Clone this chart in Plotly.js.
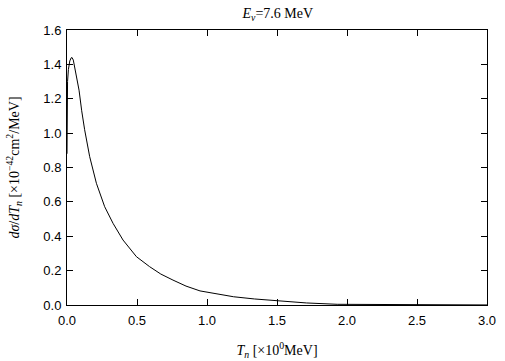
<!DOCTYPE html>
<html>
<head>
<meta charset="utf-8">
<script src="https://cdn.plot.ly/plotly-3.0.1.min.js"></script>
<style>html,body{margin:0;padding:0;background:#fff;}#plot{width:505px;height:361px;}</style>
</head>
<body>
<div id="plot"></div>
<script>
// Neutron kinetic energy T_n [MeV]
var tn = [0, 0.001, 0.004, 0.01, 0.02, 0.03, 0.036, 0.045, 0.06, 0.086, 0.105, 0.126, 0.162, 0.21, 0.269, 0.329, 0.4, 0.496, 0.59, 0.67, 0.757, 0.85, 0.95, 1.07, 1.19, 1.34, 1.5, 1.71, 1.93, 2.2, 2.5, 2.75, 3.0];
// dsigma/dT_n [x10^-42 cm^2/MeV]
var dsig = [0.88, 1.2, 1.3, 1.37, 1.42, 1.438, 1.44, 1.425, 1.36, 1.25, 1.13, 1.02, 0.863, 0.708, 0.572, 0.475, 0.378, 0.281, 0.223, 0.18, 0.145, 0.11, 0.082, 0.063, 0.048, 0.035, 0.025, 0.012, 0.004, 0.002, 0.001, 0.0006, 0.0003];
var xTicks = [0, 0.5, 1.0, 1.5, 2.0, 2.5, 3.0];
var yTicks = [0, 0.2, 0.4, 0.6, 0.8, 1.0, 1.2, 1.4, 1.6];

var trace = {x: tn, y: dsig, type: 'scatter', mode: 'lines', line: {color: '#000', width: 1}, hoverinfo: 'none'};

var axisCommon = {
  showgrid: false, zeroline: false, showline: true, linecolor: '#000', linewidth: 1,
  mirror: 'allticks', ticks: 'inside', ticklen: 6, tickwidth: 1, tickcolor: '#000',
  tickfont: {family: 'Liberation Sans, Arial, sans-serif', size: 13, color: '#000'},
  tickformat: '.1f'
};
var serif = 'Liberation Serif, Times New Roman, serif';

var layout = {
  width: 505, height: 361,
  margin: {l: 67, r: 18, t: 30, b: 56},
  paper_bgcolor: '#fff', plot_bgcolor: '#fff',
  showlegend: false,
  title: {text: '<i>E</i><sub><i>ν</i></sub>=7.6 MeV', x: 0.55, xanchor: 'center', y: 0.963, yanchor: 'middle',
          font: {family: serif, size: 14, color: '#000'}},
  xaxis: Object.assign({}, axisCommon, {range: [0, 3], tickvals: xTicks, ticklabelstandoff: 3,
    title: {text: '<i>T</i><sub><i>n</i></sub> [×10<sup>0</sup>MeV]', standoff: 18,
            font: {family: serif, size: 14, color: '#000'}}}),
  yaxis: Object.assign({}, axisCommon, {range: [0, 1.6], tickvals: yTicks, ticklabelstandoff: 2,
    title: {text: '<i>dσ</i>/<i>dT</i><sub><i>n</i></sub> [×10<sup>−42</sup>cm<sup>2</sup>/MeV]', standoff: 20,
            font: {family: serif, size: 14, color: '#000'}}})
};

Plotly.newPlot('plot', [trace], layout, {staticPlot: true, displayModeBar: false});
</script>
</body>
</html>
